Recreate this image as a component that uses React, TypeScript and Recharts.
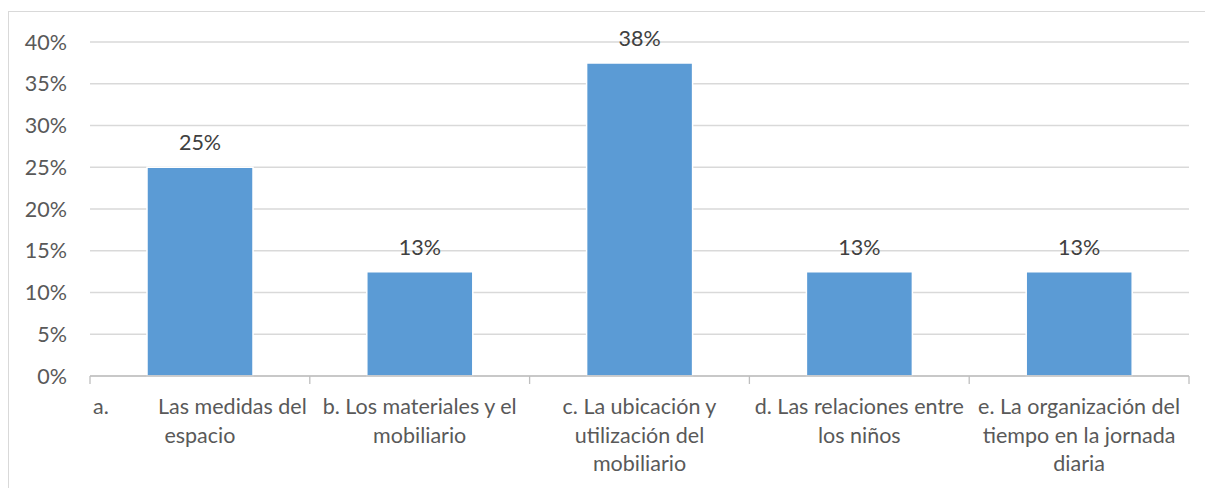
import { BarChart, Bar, XAxis, YAxis, CartesianGrid, LabelList } from "recharts";

const CATEGORIES = [
  "a. Las medidas del espacio",
  "b. Los materiales y el mobiliario",
  "c. La ubicación y utilización del mobiliario",
  "d. Las relaciones entre los niños",
  "e. La organización del tiempo en la jornada diaria",
];
// how the category names wrap under the axis ("|" = justified line)
const LABEL_LINES = [
  ["a.|Las medidas del", "espacio"],
  ["b. Los materiales y el", "mobiliario"],
  ["c. La ubicación y", "utilización del", "mobiliario"],
  ["d. Las relaciones entre", "los niños"],
  ["e. La organización del", "tiempo en la jornada", "diaria"],
];
const VALUES = [0.25, 0.125, 0.375, 0.125, 0.125];
const Y_TICKS = [0, 0.05, 0.1, 0.15, 0.2, 0.25, 0.3, 0.35, 0.4];

const W = 1196;
const H = 477;
const MARGIN = { top: 30, right: 16, bottom: 0, left: 21 };
const Y_W = 60;
const BAND = (W - MARGIN.left - MARGIN.right - Y_W) / CATEGORIES.length;
const FONT = "Lato, 'Open Sans', sans-serif";
const FS = 21.5;
const AXIS_GRAY = "#bfbfbf";

const data = CATEGORIES.map((name, i) => ({ name, value: VALUES[i] }));

const pct = (v: number) => `${Math.round(v * 100)}%`;

// category label + tick marks at the band edges (Excel style)
function CategoryTick(props: any) {
  const { x, y, payload } = props;
  const idx = CATEGORIES.indexOf(payload.value);
  const lines = LABEL_LINES[idx] || [];
  const isLast = idx === CATEGORIES.length - 1;
  return (
    <g>
      <line x1={x - BAND / 2} x2={x - BAND / 2} y1={y} y2={y + 8} stroke={AXIS_GRAY} strokeWidth={1.3} />
      {isLast && (
        <line x1={x + BAND / 2} x2={x + BAND / 2} y1={y} y2={y + 8} stroke={AXIS_GRAY} strokeWidth={1.3} />
      )}
      <g fontFamily={FONT} fontSize={FS} fill="#595959">
        {lines.map((ln, i) => {
          const ty = y + 38 + i * 28.5;
          if (ln.includes("|")) {
            const [l, r] = ln.split("|");
            return (
              <g key={i}>
                <text x={x - BAND / 2 + 3} y={ty} textAnchor="start">{l}</text>
                <text x={x + BAND / 2 - 3} y={ty} textAnchor="end">{r}</text>
              </g>
            );
          }
          return (
            <text key={i} x={x} y={ty} textAnchor="middle">{ln}</text>
          );
        })}
      </g>
    </g>
  );
}

export default function App() {
  return (
    <div
      style={{
        position: "absolute",
        left: 8,
        top: 11,
        width: W,
        height: H,
        borderTop: "1px solid #d9d9d9",
        borderLeft: "1px solid #d9d9d9",
        background: "#fff",
      }}
    >
      <BarChart width={W} height={H} data={data} margin={MARGIN}>
        <CartesianGrid vertical={false} stroke="#d9d9d9" strokeWidth={1.3} />
        <XAxis
          dataKey="name"
          height={113}
          stroke={AXIS_GRAY}
          strokeWidth={1.3}
          tickLine={false}
          tickSize={0}
          tickMargin={0}
          interval={0}
          tick={<CategoryTick />}
        />
        <YAxis
          width={Y_W}
          domain={[0, 0.4]}
          ticks={Y_TICKS}
          tickFormatter={pct}
          axisLine={false}
          tickLine={false}
          tickSize={0}
          tickMargin={23}
          tick={{ fill: "#595959", fontSize: FS, fontFamily: FONT }}
        />
        <Bar
          dataKey="value"
          fill="#5b9bd5"
          stroke="#ffffff"
          strokeWidth={1.5}
          barSize={106}
          isAnimationActive={false}
        >
          <LabelList
            dataKey="value"
            position="top"
            offset={17}
            formatter={(v: any) => pct(Number(v))}
            fill="#404040"
            fontSize={FS}
            fontFamily={FONT}
          />
        </Bar>
      </BarChart>
    </div>
  );
}
